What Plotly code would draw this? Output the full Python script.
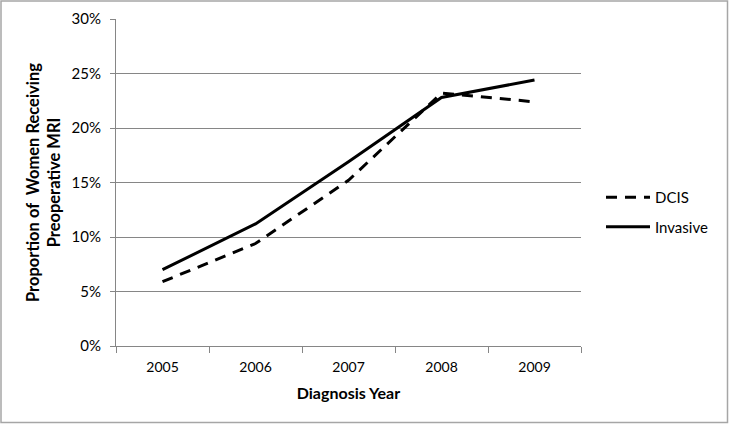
import plotly.graph_objects as go

years = ["2005", "2006", "2007", "2008", "2009"]
dcis = [5.9, 9.4, 15.2, 23.2, 22.4]
invasive = [7.0, 11.2, 16.9, 22.8, 24.4]
y_ticks = [0, 5, 10, 15, 20, 25, 30]
y_tick_labels = ["0%", "5%", "10%", "15%", "20%", "25%", "30%"]

FONT = "Lato, 'Open Sans', sans-serif"

fig = go.Figure()
fig.add_trace(go.Scatter(x=years, y=dcis, mode="lines", name="DCIS",
                         line=dict(color="black", width=3, dash="11px,8px"),
                         legendgroup="a"))
fig.add_trace(go.Scatter(x=years, y=invasive, mode="lines", name="Invasive",
                         line=dict(color="black", width=3),
                         legendgroup="b"))

L, R, T, B = 116, 148, 19, 79
W, H = 729, 425
pw, ph = W - L - R, H - T - B

fig.update_layout(
    width=W, height=H,
    margin=dict(l=L, r=R, t=T, b=B, autoexpand=False),
    paper_bgcolor="white", plot_bgcolor="white",
    font=dict(family=FONT, size=15, color="black"),
    showlegend=True,
    legend=dict(x=(601 - L) / pw, y=(346 - 181) / ph, xanchor="left", yanchor="top",
                font=dict(size=15, family=FONT), tracegroupgap=7,
                bgcolor="rgba(0,0,0,0)", itemwidth=44),
    xaxis=dict(type="category", range=[-0.5, 4.5], showgrid=False,
               showline=True, linecolor="#868686", linewidth=1,
               ticks="outside", tickson="boundaries", ticklen=6, tickcolor="#868686",
               tickfont=dict(size=14), fixedrange=True, ticklabelstandoff=8,
               title=dict(text="<b>Diagnosis Year</b>", font=dict(size=16), standoff=14)),
    yaxis=dict(range=[0, 30], tickvals=y_ticks, ticktext=y_tick_labels,
               showgrid=True, gridcolor="#868686", gridwidth=1,
               showline=True, linecolor="#868686", linewidth=1,
               ticks="outside", ticklen=5, tickcolor="#868686", ticklabelstandoff=6,
               tickfont=dict(size=15), zeroline=False, fixedrange=True),
    annotations=[dict(text="<b>Proportion of &nbsp;Women Receiving<br>Preoperative MRI</b>",
                      xref="paper", yref="paper",
                      x=(44 - L) / pw, y=(346 - 183) / ph,
                      xanchor="center", yanchor="middle", textangle=-90,
                      showarrow=False, font=dict(size=16.5, family=FONT))],
    shapes=[dict(type="rect", xref="paper", yref="paper",
                 x0=(1 - L) / pw, x1=(727.5 - L) / pw,
                 y0=(346 - 422.5) / ph, y1=(346 - 1) / ph,
                 line=dict(color="#a6a6a6", width=1.5), layer="below")],
)

fig.write_html("out.html", config={"displayModeBar": False},
               post_script="document.body.style.margin='0';document.body.style.overflow='hidden';")
